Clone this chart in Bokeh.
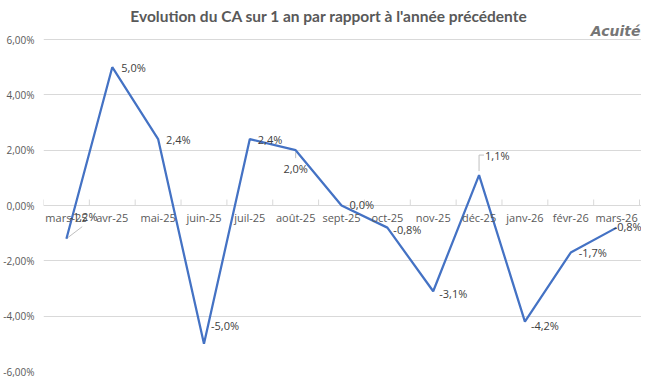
from bokeh.plotting import figure
from bokeh.models import Range1d, FixedTicker, LabelSet, Label, ColumnDataSource
from bokeh.core.properties import value
from bokeh.embed import file_html
from bokeh.resources import INLINE

# ---- data ----
categories = ["mars-25", "avr-25", "mai-25", "juin-25", "juil-25", "août-25", "sept-25",
              "oct-25", "nov-25", "déc-25", "janv-26", "févr-26", "mars-26"]
values = [-1.2, 5.0, 2.4, -5.0, 2.4, 2.0, 0.0, -0.8, -3.1, 1.1, -4.2, -1.7, -0.8]
y_ticks = [-6, -4, -2, 0, 2, 4, 6]
y_tick_labels = ["-6,00%", "-4,00%", "-2,00%", "0,00%", "2,00%", "4,00%", "6,00%"]
title_text = "Evolution du CA sur 1 an par rapport à l'année précédente"
brand_text = "Acuité"

# ---- label placement (screen px offsets from each point) ----
label_dx = [3, 9, 8, 7, 8, 0, 8, 6, 6, 6, 6, 8, -3]
label_dy = [22, 0, 0, 18, 0, -18, 1, -2, -2, 20, -4, 0, 1]
label_align = ["left"] * 13
label_align[5] = "center"

W, H = 641, 378
ML, MB = 35, 7
TOP_PAD = 39          # px between canvas top and the 6% gridline
n = len(categories)
PX_X = 604 / n
PX_Y = (H - TOP_PAD - MB) / 12.0

p = figure(width=W, height=H, output_backend="svg", toolbar_location=None,
           x_range=Range1d(0, n + (W - ML - 604) / PX_X),
           y_range=Range1d(-6, 6 + TOP_PAD / PX_Y), title=None,
           min_border_left=ML, min_border_right=0, min_border_top=0, min_border_bottom=MB)
p.outline_line_color = None
p.background_fill_color = "white"
p.border_fill_color = "white"
p.xaxis.visible = False
p.xgrid.visible = False
p.ygrid.ticker = FixedTicker(ticks=y_ticks)
p.ygrid.grid_line_color = "#d9d9d9"
p.ygrid.grid_line_width = 1
p.yaxis.ticker = FixedTicker(ticks=y_ticks)
p.yaxis.major_label_overrides = {t: l for t, l in zip(y_ticks, y_tick_labels)}
p.yaxis.axis_line_color = None
p.yaxis.major_tick_line_color = None
p.yaxis.minor_tick_line_color = None
p.yaxis.major_label_standoff = 3
p.yaxis.major_label_text_font = "Open Sans"
p.yaxis.major_label_text_font_size = "10px"
p.yaxis.major_label_text_color = "#595959"

xs = [i + 0.5 for i in range(n)]

# boundary ticks on zero line
bx = list(range(n + 1))
p.segment(x0=bx, y0=[0] * len(bx), x1=bx, y1=[6 / PX_Y] * len(bx),
          line_color="#d9d9d9", line_width=1)

# category labels along zero line
cat_src = ColumnDataSource(dict(x=xs, y=[0] * n, text=categories))
p.add_layout(LabelSet(x="x", y="y", text="text", source=cat_src, y_offset=-12,
                      text_align="center", text_baseline="middle",
                      text_font=value("Open Sans"), text_font_size="11px", text_color="#595959"))

# leader lines
lead_x, lead_y = [], []
i = 0
lead_x.append([xs[i], xs[i] + 16 / PX_X]); lead_y.append([values[i], values[i] + 12 / PX_Y])
i = 5
lead_x.append([xs[i], xs[i]]); lead_y.append([values[i] - 2 / PX_Y, values[i] - 8 / PX_Y])
i = 9
lead_x.append([xs[i], xs[i], xs[i] + 5 / PX_X])
lead_y.append([values[i] + 4 / PX_Y, values[i] + 20 / PX_Y, values[i] + 20 / PX_Y])
p.multi_line(xs=lead_x, ys=lead_y, line_color="#bfbfbf", line_width=1)

# main line
p.line(xs, values, line_color="#4472C4", line_width=2.25)

# value labels
val_text = [("%.1f" % v).replace(".", ",") + "%" for v in values]
val_src = ColumnDataSource(dict(x=xs, y=values, text=val_text, dx=label_dx, dy=label_dy, al=label_align))
p.add_layout(LabelSet(x="x", y="y", text="text", source=val_src, x_offset="dx", y_offset="dy",
                      text_align="al", text_baseline="middle",
                      text_font=value("Open Sans"), text_font_size="11px", text_color="#404040"))

# title and brand
p.add_layout(Label(x=6.23, y=6 + 24 / PX_Y, text=title_text, text_align="center",
                   text_baseline="middle", text_font="Lato", text_font_style="bold",
                   text_font_size="15.5px", text_color="#595959"))
p.add_layout(Label(x=n + (640 - ML - 604) / PX_X, y=6 + 9 / PX_Y, text=brand_text, text_align="right",
                   text_baseline="middle", text_font="DejaVu Sans", text_font_style="bold italic",
                   text_font_size="14px", text_color="#767676"))

open("out.html", "w").write(file_html(p, INLINE))
